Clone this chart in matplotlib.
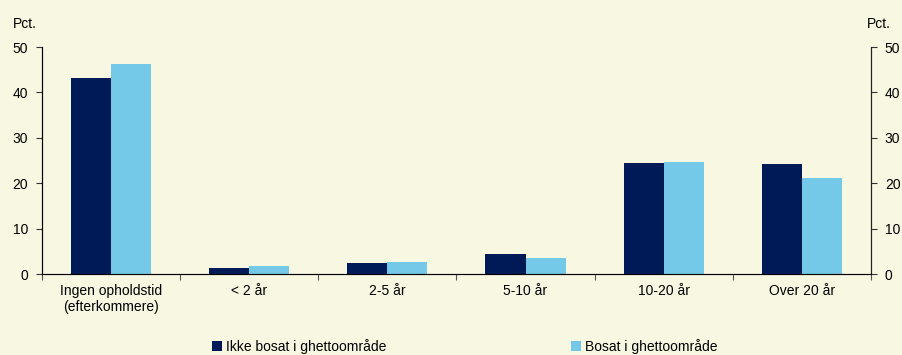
import matplotlib.pyplot as plt
import numpy as np

plt.rcParams['font.family'] = ['Liberation Sans', 'DejaVu Sans']

# ── Data ──────────────────────────────────────────────────────────────────────
categories = ["Ingen opholdstid\n(efterkommere)", "< 2 år", "2-5 år",
              "5-10 år", "10-20 år", "Over 20 år"]
ikke_bosat = [43.2, 1.3, 2.4, 4.4, 24.4, 24.2]
bosat = [46.3, 1.7, 2.6, 3.5, 24.6, 21.1]
series_names = ["Ikke bosat i ghettoområde", "Bosat i ghettoområde"]

BG = "#F8F7E1"
DARK = "#001A57"
LIGHT = "#74C8E8"
FS = 10

fig = plt.figure(figsize=(9.03, 3.55), dpi=100, facecolor=BG)
ax = fig.add_axes([0.0465, 0.228, 0.918, 0.6395], facecolor=BG)

x = np.arange(len(categories))
w = 0.29
b1 = ax.bar(x - w / 2, ikke_bosat, w, color=DARK, label=series_names[0])
b2 = ax.bar(x + w / 2, bosat, w, color=LIGHT, label=series_names[1])

ax.set_xlim(-0.5, len(categories) - 0.5)
ax.set_ylim(0, 50)
ax.set_yticks(range(0, 51, 10))
ax.tick_params(axis='y', labelsize=FS, length=4, pad=6, color="#333333")

# category labels between boundary ticks
ax.set_xticks(np.arange(-0.5, len(categories) + 0.5, 1))
ax.set_xticklabels([])
ax.set_xticks(x, minor=True)
ax.set_xticklabels(categories, minor=True, fontsize=FS)
ax.tick_params(axis='x', which='major', length=4, color="#555555")
ax.tick_params(axis='x', which='minor', length=0, pad=7)

ax.spines['top'].set_visible(False)
ax.spines['left'].set_color("#222222")
ax.spines['bottom'].set_color("#555555")
ax.spines['right'].set_color("#222222")

ax2 = ax.twinx()
ax2.set_ylim(0, 50)
ax2.set_yticks(range(0, 51, 10))
ax2.tick_params(axis='y', labelsize=FS, length=4, pad=6, color="#333333")
ax2.spines['top'].set_visible(False)
ax2.spines['right'].set_color("#222222")

fig.text(0.0145, 0.92, "Pct.", fontsize=FS)
fig.text(0.986, 0.92, "Pct.", fontsize=FS, ha='right')

fig.legend([b1, b2], series_names, loc='center', bbox_to_anchor=(0.515, 0.025),
           ncol=2, frameon=False, fontsize=FS, handlelength=0.7,
           handleheight=0.7, handletextpad=0.3, columnspacing=13.3)

fig.savefig("out.png", dpi=100, facecolor=BG)
